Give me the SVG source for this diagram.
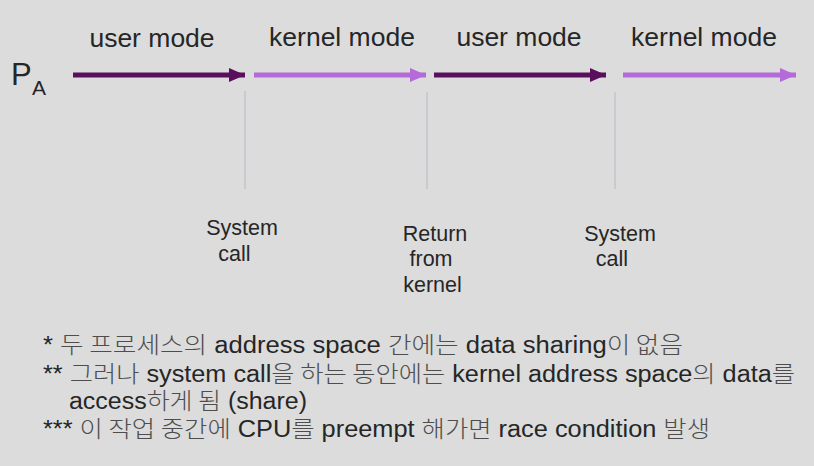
<svg xmlns="http://www.w3.org/2000/svg" width="814" height="466" viewBox="0 0 814 466">
<style>
.t{font-family:"Liberation Sans","Noto Sans CJK KR",sans-serif;fill:#262626}
.m{font-size:26.5px;text-anchor:middle}
.l{font-size:21.5px;text-anchor:middle}
.n{font-size:23px}
.k{fill:#4d4d4d;font-family:"Noto Sans CJK KR",sans-serif;font-weight:300}
.dark{stroke:#5a0f5e;stroke-width:5}
.light{stroke:#b46ad8;stroke-width:5}
.v{stroke:#c6c4cc;stroke-width:1.5}
</style>
<defs>
<marker id="hd" viewBox="0 0 16 14" refX="16" refY="7" markerWidth="16" markerHeight="14" markerUnits="userSpaceOnUse" orient="auto"><path d="M0 0 L16 7 L0 14 Z" fill="#5a0f5e"/></marker>
<marker id="hl" viewBox="0 0 16 14" refX="16" refY="7" markerWidth="16" markerHeight="14" markerUnits="userSpaceOnUse" orient="auto"><path d="M0 0 L16 7 L0 14 Z" fill="#b46ad8"/></marker>
</defs>
<rect width="814" height="466" fill="#dcdcdc"/>
<g id="pa"><text class="t" x="11" y="85" font-size="31">P</text><text class="t" x="32" y="95" font-size="21">A</text></g>
<g id="connectors">
<line class="dark" x1="73" y1="75" x2="245" y2="75" marker-end="url(#hd)"/>
<line class="light" x1="254" y1="75" x2="426" y2="75" marker-end="url(#hl)"/>
<line class="dark" x1="434" y1="75" x2="606" y2="75" marker-end="url(#hd)"/>
<line class="light" x1="623" y1="75" x2="796" y2="75" marker-end="url(#hl)"/>
<line class="v" x1="245" y1="91" x2="245" y2="189"/>
<line class="v" x1="427" y1="92" x2="427" y2="189"/>
<line class="v" x1="615" y1="92" x2="615" y2="189"/>
</g>
<g id="modes">
<text class="t m" x="152" y="47">user mode</text>
<text class="t m" x="342" y="46">kernel mode</text>
<text class="t m" x="519" y="46">user mode</text>
<text class="t m" x="704" y="46">kernel mode</text>
</g>
<g id="syscall1"><text class="t l" x="242" y="235">System</text><text class="t l" x="234.5" y="261">call</text></g>
<g id="return"><text class="t l" x="435" y="241">Return</text><text class="t l" x="431" y="266">from</text><text class="t l" x="432.5" y="292">kernel</text></g>
<g id="syscall2"><text class="t l" x="620" y="241">System</text><text class="t l" x="612" y="266">call</text></g>
<g id="notes">
<text class="t n" x="43" y="353" textLength="640" lengthAdjust="spacingAndGlyphs">* <tspan class="k">두 프로세스의</tspan> address space <tspan class="k">간에는</tspan> data sharing<tspan class="k">이 없음</tspan></text>
<text class="t n" x="43" y="382" textLength="752" lengthAdjust="spacingAndGlyphs">** <tspan class="k">그러나</tspan> system call<tspan class="k">을 하는 동안에는</tspan> kernel address space<tspan class="k">의</tspan> data<tspan class="k">를</tspan></text>
<text class="t n" x="69" y="409" textLength="238" lengthAdjust="spacingAndGlyphs">access<tspan class="k">하게 됨</tspan> (share)</text>
<text class="t n" x="43" y="437" textLength="667" lengthAdjust="spacingAndGlyphs">*** <tspan class="k">이 작업 중간에</tspan> CPU<tspan class="k">를</tspan> preempt <tspan class="k">해가면</tspan> race condition <tspan class="k">발생</tspan></text>
</g>
</svg>
